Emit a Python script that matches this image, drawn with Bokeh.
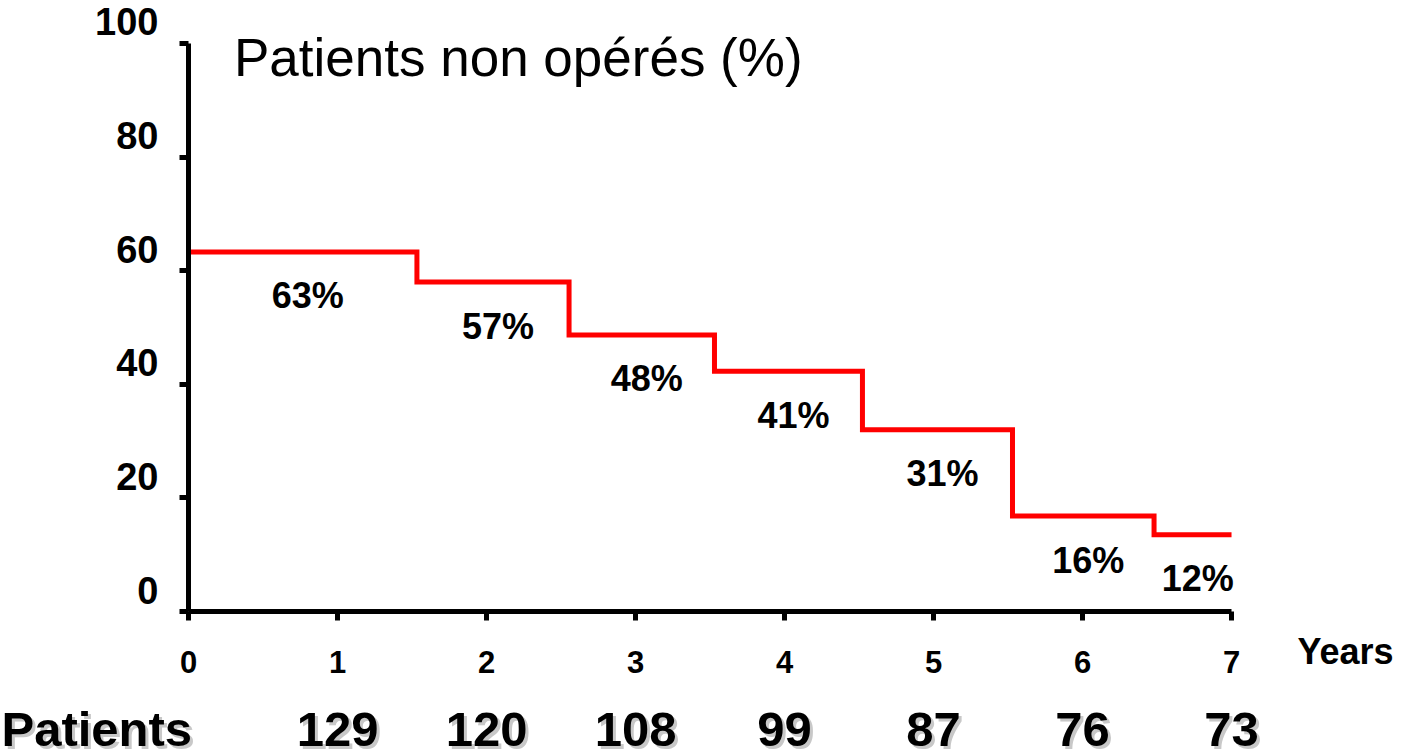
from bokeh.plotting import figure
from bokeh.models import Range1d, FixedTicker, ColumnDataSource, LabelSet, Label
from bokeh.core.properties import value
from bokeh.embed import file_html
from bokeh.resources import INLINE

# ---- data ----
step_years = [0, 1.533, 2.554, 3.53, 4.523, 5.53, 6.48]
step_values = [63.3, 58.0, 48.7, 42.3, 32.0, 16.8, 13.5]
end_year = 7
pct_labels = ["63%", "57%", "48%", "41%", "31%", "16%", "12%"]
x_ticks = [0, 1, 2, 3, 4, 5, 6, 7]
y_ticks = [0, 20, 40, 60, 80, 100]
patient_years = [1, 2, 3, 4, 5, 6, 7]
patient_counts = ["129", "120", "108", "99", "87", "76", "73"]

FONT = "Liberation Sans"

# frame covers the whole canvas; axes are pinned at x=0 / y=0
p = figure(width=1400, height=752,
           x_range=Range1d(-1.2617, 8.134), y_range=Range1d(-24.82, 107.57),
           output_backend="svg", toolbar_location=None, min_border=0)
p.outline_line_color = None
p.grid.visible = False
p.background_fill_color = "white"
p.border_fill_color = "white"

# step line
xs = step_years + [end_year]
ys = step_values + [step_values[-1]]
p.step(xs, ys, mode="after", line_color="#ff0000", line_width=5, line_join="miter")

# axes styling
for ax in (p.xaxis[0], p.yaxis[0]):
    ax.fixed_location = 0
    ax.axis_line_width = 5
    ax.axis_line_color = "black"
    ax.major_tick_line_width = 5
    ax.major_tick_line_color = "black"
    ax.major_tick_in = 0
    ax.major_tick_out = 9
    ax.minor_tick_line_color = None
    ax.major_label_text_font = FONT
    ax.major_label_text_font_style = "bold"
    ax.major_label_text_color = "black"

p.xaxis.ticker = FixedTicker(ticks=x_ticks)
p.xaxis.bounds = (x_ticks[0], x_ticks[-1])
p.xaxis.major_label_text_font_size = "31px"
p.xaxis.major_label_standoff = 30

p.yaxis.ticker = FixedTicker(ticks=y_ticks)
p.yaxis.bounds = (y_ticks[0], y_ticks[-1])
p.yaxis.major_label_text_font_size = "38px"
p.yaxis.major_label_standoff = 21
# labels sit slightly above their ticks, as in the original slide
p.yaxis.major_label_overrides = {t: f"{t}\n" for t in y_ticks}
p.yaxis.major_label_text_line_height = 1.0

# percentage labels under each segment
mids = [(a + b) / 2 for a, b in zip(xs[:-1], xs[1:])]
lab_src = ColumnDataSource(dict(x=mids, y=step_values, text=pct_labels))
p.add_layout(LabelSet(x="x", y="y", text="text", source=lab_src,
                      x_offset=5, y_offset=-44,
                      text_align="center", text_baseline="middle",
                      text_font=value(FONT), text_font_style="bold",
                      text_font_size="36px", text_color="black"))

# title inside the plot
p.add_layout(Label(x=0.305, y=97.6, text="Patients non opérés (%)",
                   text_align="left", text_baseline="middle",
                   text_font=FONT, text_font_size="53px", text_color="black"))

# "Years" axis label
p.add_layout(Label(x=7.443, y=-7.0, text="Years",
                   text_align="left", text_baseline="middle",
                   text_font=FONT, text_font_style="bold",
                   text_font_size="36px", text_color="black"))

# patients-at-risk row (with a soft shadow)
row_y = -20.7
pat_src = ColumnDataSource(dict(x=patient_years, y=[row_y] * len(patient_years),
                                text=patient_counts))
for color, dx, dy in (("#c8c8c8", 3, -3), ("black", 0, 0)):
    p.add_layout(LabelSet(x="x", y="y", text="text", source=pat_src,
                          x_offset=dx, y_offset=dy,
                          text_align="center", text_baseline="middle",
                          text_font=value(FONT), text_font_style="bold",
                          text_font_size="49px", text_color=color))
    p.add_layout(Label(x=-1.255, y=row_y, x_offset=dx, y_offset=dy, text="Patients",
                       text_align="left", text_baseline="middle",
                       text_font=FONT, text_font_style="bold",
                       text_font_size="49px", text_color=color))

open("out.html", "w").write(file_html(p, INLINE))
